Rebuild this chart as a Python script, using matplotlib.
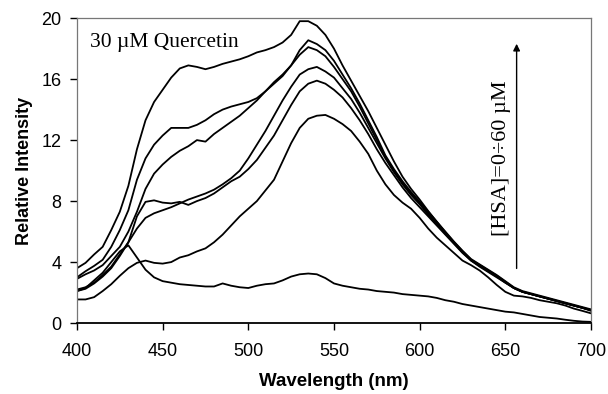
import numpy as np
from matplotlib import pyplot as plt

# wavelength grid (nm), 5 nm steps
wl = list(range(400, 705, 5))

# emission spectra, HSA 0 -> 60 uM
hsa0 = [2.1, 2.3, 2.8, 3.3, 4.0, 4.7, 5.1, 4.3, 3.5, 3.0, 2.75, 2.65, 2.55, 2.5, 2.45, 2.4,
        2.4, 2.6, 2.45, 2.35, 2.3, 2.45, 2.55, 2.6, 2.8, 3.05, 3.2, 3.25, 3.2, 2.95, 2.6,
        2.45, 2.35, 2.25, 2.2, 2.1, 2.05, 2.0, 1.9, 1.85, 1.8, 1.75, 1.65, 1.5, 1.4, 1.25,
        1.15, 1.05, 0.95, 0.85, 0.75, 0.7, 0.6, 0.5, 0.4, 0.35, 0.3, 0.22, 0.15, 0.1, 0.08]
hsa1 = [1.55, 1.55, 1.7, 2.1, 2.55, 3.1, 3.6, 3.95, 4.1, 3.95, 3.9, 4.0, 4.3, 4.45, 4.7, 4.9,
        5.3, 5.8, 6.4, 7.0, 7.5, 8.0, 8.7, 9.4, 10.6, 11.8, 12.8, 13.4, 13.6, 13.65, 13.4,
        13.05, 12.6, 11.9, 11.1, 10.0, 9.1, 8.4, 7.9, 7.5, 6.9, 6.2, 5.6, 5.1, 4.6, 4.1,
        3.8, 3.45, 3.0, 2.5, 2.05, 1.8, 1.75, 1.65, 1.5, 1.4, 1.3, 1.15, 0.95, 0.8, 0.64]
hsa2 = [2.1, 2.25, 2.6, 3.05, 3.6, 4.4, 5.3, 7.0, 7.95, 8.05, 7.9, 7.85, 7.95, 7.75, 8.0, 8.2,
        8.5, 8.9, 9.3, 9.6, 10.1, 10.7, 11.5, 12.3, 13.3, 14.3, 15.2, 15.7, 15.9, 15.7, 15.3,
        14.8, 14.1, 13.3, 12.4, 11.4, 10.5, 9.7, 8.9, 8.2, 7.6, 7.0, 6.4, 5.8, 5.2, 4.6,
        4.1, 3.7, 3.35, 3.0, 2.65, 2.3, 2.05, 1.9, 1.75, 1.6, 1.45, 1.3, 1.15, 1.0, 0.85]
hsa3 = [2.2, 2.35, 2.65, 3.15, 3.7, 4.5, 5.3, 6.2, 6.9, 7.2, 7.4, 7.6, 7.85, 8.1, 8.3, 8.5,
        8.75, 9.1, 9.5, 10.0, 10.8, 11.7, 12.6, 13.6, 14.6, 15.5, 16.3, 16.65, 16.8, 16.5,
        16.1, 15.4, 14.7, 13.8, 12.8, 11.8, 10.8, 9.9, 9.1, 8.4, 7.8, 7.1, 6.5, 5.85, 5.25,
        4.65, 4.1, 3.75, 3.4, 3.05, 2.65, 2.3, 2.05, 1.9, 1.75, 1.6, 1.45, 1.3, 1.15, 1.0, 0.85]
hsa4 = [2.9, 3.2, 3.45, 3.8, 4.4, 5.0, 6.0, 7.3, 8.8, 9.8, 10.4, 10.9, 11.3, 11.6, 12.0, 11.9,
        12.4, 12.8, 13.2, 13.6, 14.1, 14.6, 15.2, 15.8, 16.3, 16.9, 17.6, 18.1, 17.9, 17.5,
        16.8, 16.0, 15.2, 14.2, 13.1, 12.0, 10.9, 10.0, 9.2, 8.5, 7.9, 7.2, 6.6, 5.9, 5.3,
        4.7, 4.15, 3.8, 3.45, 3.1, 2.7, 2.3, 2.05, 1.9, 1.75, 1.6, 1.45, 1.3, 1.15, 1.0, 0.85]
hsa5 = [3.0, 3.4, 3.75, 4.15, 5.0, 6.1, 7.4, 9.4, 10.8, 11.7, 12.3, 12.8, 12.8, 12.8, 13.0,
        13.3, 13.7, 14.0, 14.2, 14.35, 14.5, 14.75, 15.2, 15.7, 16.2, 16.9, 17.9, 18.55, 18.3,
        17.9, 17.2, 16.3, 15.4, 14.4, 13.3, 12.2, 11.0, 10.1, 9.3, 8.6, 7.95, 7.3, 6.65,
        6.0, 5.35, 4.75, 4.2, 3.85, 3.5, 3.15, 2.75, 2.35, 2.1, 1.95, 1.8, 1.65, 1.5, 1.35,
        1.2, 1.05, 0.9]
hsa6 = [3.6, 3.95, 4.5, 5.0, 6.1, 7.3, 9.0, 11.4, 13.3, 14.5, 15.3, 16.1, 16.7, 16.9, 16.8,
        16.65, 16.8, 17.0, 17.15, 17.3, 17.5, 17.75, 17.9, 18.1, 18.4, 18.9, 19.8, 19.8, 19.5,
        18.9, 18.0, 16.9, 15.9, 14.9, 13.9, 12.8, 11.7, 10.6, 9.6, 8.8, 8.1, 7.35, 6.65,
        5.95, 5.3, 4.7, 4.15, 3.8, 3.45, 3.1, 2.7, 2.3, 2.05, 1.9, 1.75, 1.6, 1.45, 1.3,
        1.15, 1.0, 0.8]

spectra = [hsa0, hsa1, hsa2, hsa3, hsa4, hsa5, hsa6]

xticks = [400, 450, 500, 550, 600, 650, 700]
yticks = [0, 4, 8, 12, 16, 20]

fig = plt.figure(figsize=(6.08, 3.94), dpi=100)
ax = fig.add_axes([0.1266, 0.180, 0.8454, 0.774])

for s in spectra:
    ax.plot(wl, s, color='black', lw=1.3)

ax.set_xlim(400, 700)
ax.set_ylim(0, 20)
ax.set_xticks(xticks)
ax.set_yticks(yticks)
ax.tick_params(direction='out', length=5, width=1, labelsize=13, color='black')
ax.tick_params(axis='x', pad=9)
ax.tick_params(axis='y', pad=6)
for lab in ax.get_xticklabels() + ax.get_yticklabels():
    lab.set_family('Liberation Sans')
for side in ['top', 'right', 'left']:
    ax.spines[side].set_color('#777777')
    ax.spines[side].set_linewidth(0.9)
ax.spines['bottom'].set_linewidth(1.3)

ax.set_xlabel('Wavelength (nm)', fontsize=13.5, fontweight='bold',
              family='Liberation Sans', labelpad=10)
ax.set_ylabel('Relative Intensity', fontsize=13, fontweight='bold',
              family='Liberation Sans', labelpad=6)

ax.text(407.6, 18.4, '30 \u00b5M Quercetin', fontsize=15.5,
        family='Liberation Serif', ha='left', va='center')

ax.annotate('', xy=(656.6, 18.5), xytext=(656.6, 3.4),
            arrowprops=dict(arrowstyle='-|>', color='black', lw=1, mutation_scale=10))
ax.text(647.5, 10.8, '[HSA]=0\u00f760 \u00b5M', fontsize=16, rotation=90,
        family='Liberation Serif', ha='center', va='center')

fig.savefig('out.png', dpi=100)
